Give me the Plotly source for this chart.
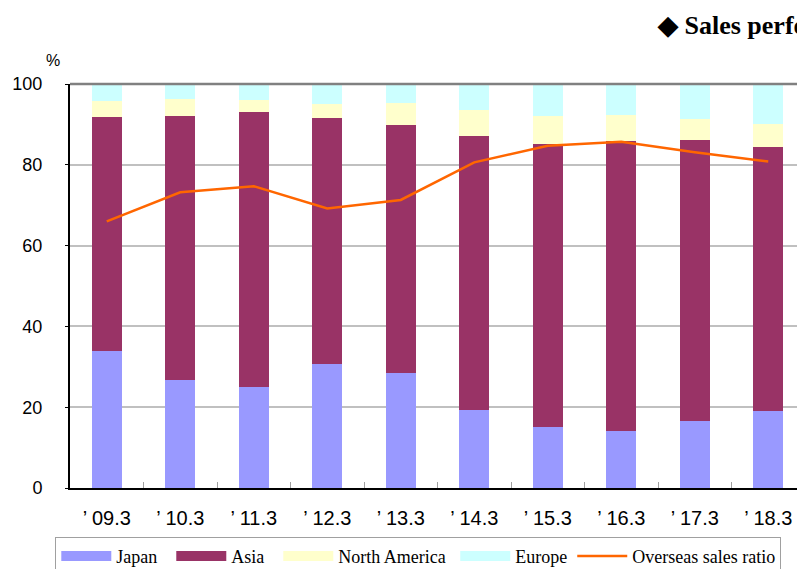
import plotly.graph_objects as go

years = ["’ 09.3", "’ 10.3", "’ 11.3", "’ 12.3", "’ 13.3",
         "’ 14.3", "’ 15.3", "’ 16.3", "’ 17.3", "’ 18.3"]

japan = [33.9, 26.7, 25.1, 30.7, 28.5, 19.3, 15.1, 14.1, 16.6, 19.1]
asia = [57.9, 65.5, 67.9, 60.8, 61.4, 67.9, 70.0, 71.7, 69.6, 65.4]
north_america = [4.1, 4.1, 3.0, 3.6, 5.3, 6.4, 7.0, 6.5, 5.2, 5.7]
europe = [4.1, 3.7, 4.0, 4.9, 4.8, 6.4, 7.9, 7.7, 8.6, 9.8]
overseas_ratio = [66.0, 73.2, 74.7, 69.2, 71.3, 80.6, 84.7, 85.7, 83.1, 80.8]

serif = "Liberation Serif, Times New Roman, serif"
sans = "Liberation Sans, Arial, sans-serif"

regions = [("Japan", japan, "#9999FF"),
           ("Asia", asia, "#993366"),
           ("North America", north_america, "#FFFFCC"),
           ("Europe", europe, "#CCFFFF")]
# trailing no-break spaces widen the legend entries a little
legend_pad = {"Japan": 2, "Asia": 2, "North America": 1, "Europe": 0}

fig = go.Figure()

# stacked bars by region
for name, vals, color in regions:
    fig.add_trace(go.Bar(x=years, y=vals, name=name, showlegend=False,
                         marker=dict(color=color, line=dict(width=0))))

# overseas sales ratio line
fig.add_trace(go.Scatter(x=years, y=overseas_ratio, name="Overseas sales ratio",
                         mode="lines", line=dict(color="#FF6600", width=2.5),
                         showlegend=False))

# legend keys (wide swatches like the original)
for name, vals, color in regions:
    fig.add_trace(go.Scatter(x=[None], y=[None], name=name + "\u00a0" * legend_pad[name],
                             mode="lines", line=dict(color=color, width=11)))
fig.add_trace(go.Scatter(x=[None], y=[None], name="Overseas sales ratio", mode="lines",
                         line=dict(color="#FF6600", width=2.5)))

# page body has an 8px margin, so the figure is 8px smaller than the window
fig.update_layout(
    barmode="stack",
    bargap=0.59,
    width=797, height=561,
    margin=dict(l=62, r=0, t=76, b=81, autoexpand=False),
    paper_bgcolor="white", plot_bgcolor="white",
    showlegend=True,
    legend=dict(orientation="h", x=-0.02, y=-0.121, xanchor="left", yanchor="top",
                traceorder="normal",
                font=dict(family=serif, size=18, color="black"),
                bordercolor="#A0A0A0", borderwidth=1,
                itemwidth=50, tracegroupgap=0),
    font=dict(family=sans, color="black"),
)

fig.update_xaxes(
    type="category", automargin=False,
    showline=True, linecolor="black", linewidth=2,
    ticks="inside", tickson="boundaries", ticklen=6, tickcolor="#A0A0A0",
    tickfont=dict(family=sans, size=20, color="black"),
    ticklabelstandoff=11,
    showgrid=False,
    range=[-0.5, 9.5],
)

fig.update_yaxes(
    range=[0, 100], tickvals=[0, 20, 40, 60, 80, 100], automargin=False,
    showline=True, linecolor="black", linewidth=2,
    showgrid=True, gridcolor="#C0C0C0", gridwidth=1.5,
    ticks="outside", ticklen=3, tickcolor="black",
    tickfont=dict(family=sans, size=18, color="black"),
    ticklabelstandoff=19,
    zeroline=False,
)

# top border of plot area
fig.add_shape(type="line", xref="paper", yref="paper", x0=0, x1=1, y0=1, y1=1,
              line=dict(color="#808080", width=2.5))

fig.add_annotation(text="%", xref="paper", yref="paper", x=-0.023, y=1.058,
                   xanchor="center", yanchor="middle",
                   showarrow=False, font=dict(family=sans, size=16, color="black"))

fig.add_annotation(text="<b>◆ Sales performance by region</b>", xref="paper", yref="paper",
                   x=0.796, y=1.146, xanchor="left", yanchor="middle", showarrow=False,
                   font=dict(family=serif, size=26, color="black"))

fig.write_html("out.html")
